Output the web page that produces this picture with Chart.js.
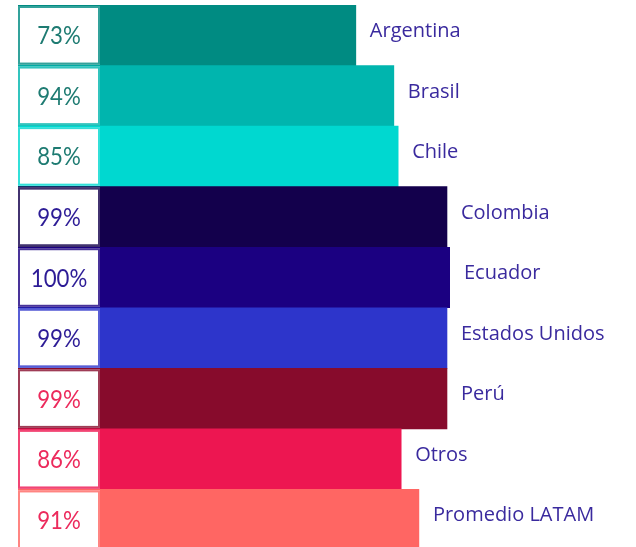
<!DOCTYPE html>
<html>
<head>
<meta charset="utf-8">
<script src="https://cdn.jsdelivr.net/npm/chart.js@4/dist/chart.umd.min.js"></script>
<style>
html,body{margin:0;padding:0;background:#fff;overflow:hidden;}
#wrap{width:636px;height:547px;overflow:hidden;}
</style>
</head>
<body>
<div id="wrap"><canvas id="c" width="636" height="550"></canvas></div>
<script>
// Categories (countries)
const categories = ['Argentina','Brasil','Chile','Colombia','Ecuador','Estados Unidos','Perú','Otros','Promedio LATAM'];
// Percentages written in the boxes
const pctValues = [73, 94, 85, 99, 100, 99, 99, 86, 91];
// Bar lengths as drawn in the picture (relative to the longest bar = 100)
const barLengths = [78.2, 87.0, 88.0, 99.3, 100, 99.3, 99.3, 88.7, 92.8];
// Colours
const barColors = ['#008b82','#00b5ae','#00d8d0','#13004c','#1b0081','#2d35cb','#870b2c','#ed1651','#ff6663'];
const pctColors = ['#1e7b72','#1e7b72','#1e7b72','#2d1c96','#2d1c96','#2d1c96','#ec2a5c','#ec2a5c','#ec2a5c'];
const labelColor = '#3a2a9e';

function hexA(hex, a){
  const n = parseInt(hex.slice(1),16);
  return `rgba(${(n>>16)&255},${(n>>8)&255},${n&255},${a})`;
}

const overlay = {
  id:'overlay',
  afterDatasetsDraw(chart){
    const ctx = chart.ctx;
    const meta = chart.getDatasetMeta(0);
    const xs = chart.scales.x;
    const x0 = xs.getPixelForValue(0);
    meta.data.forEach((bar, i) => {
      const h = bar.height;
      const top = bar.y - h/2;
      // box
      const bx = x0, bw = 82;
      const by = top + 1, bh = h - 2;
      ctx.save();
      ctx.fillStyle = '#fff';
      ctx.fillRect(bx, by, bw, bh);
      ctx.strokeStyle = hexA(barColors[i], 0.8);
      ctx.lineWidth = 2;
      ctx.strokeRect(bx+1, by+1, bw-2, bh-2);
      // pct text (slightly condensed)
      ctx.save();
      ctx.translate(bx + bw/2, bar.y + 1);
      ctx.scale(0.89, 1);
      ctx.fillStyle = pctColors[i];
      ctx.font = '25px Lato';
      ctx.textAlign = 'center';
      ctx.textBaseline = 'middle';
      ctx.fillText(pctValues[i] + '%', 0, 0);
      ctx.restore();
      // label
      ctx.fillStyle = labelColor;
      ctx.font = '20px "Open Sans"';
      ctx.textAlign = 'left';
      ctx.textBaseline = 'middle';
      ctx.fillText(categories[i], bar.x + 14, bar.y - 4);
      ctx.restore();
    });
  }
};

new Chart(document.getElementById('c'), {
  type: 'bar',
  data: {
    labels: categories,
    datasets: [{
      data: barLengths,
      backgroundColor: barColors,
      borderWidth: 0,
      barPercentage: 1,
      categoryPercentage: 1
    }]
  },
  options: {
    indexAxis: 'y',
    responsive: false,
    animation: false,
    layout: { padding: { left: 18, right: 186, top: 5, bottom: 0 } },
    plugins: { legend: { display: false }, tooltip: { enabled: false } },
    scales: {
      x: { display: false, min: 0, max: 100 },
      y: { display: false }
    }
  },
  plugins: [overlay]
});
</script>
</body>
</html>
